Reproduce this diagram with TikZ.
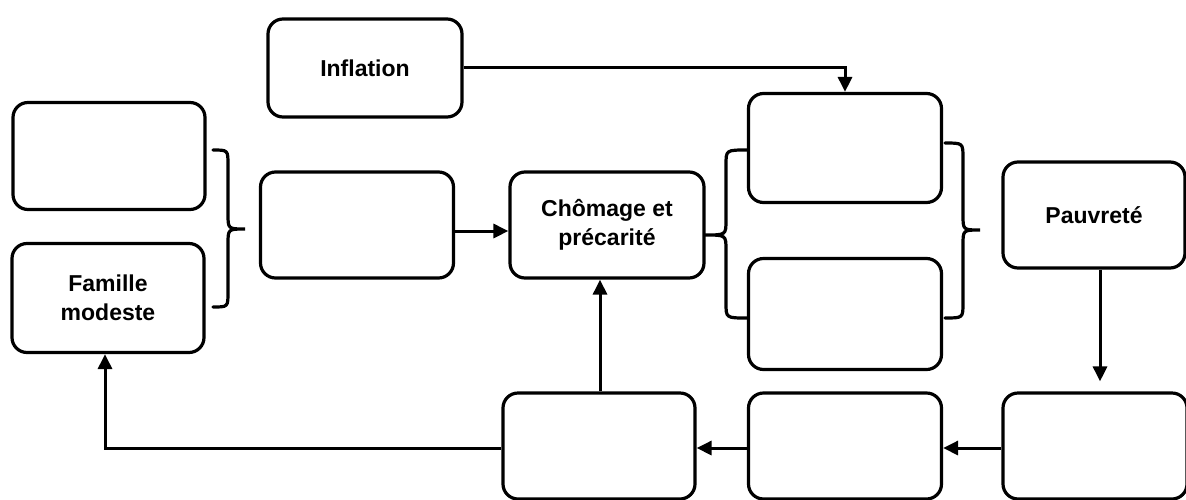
\documentclass[tikz,border=0pt]{standalone}
\usepackage{fontspec}
\setmainfont{Liberation Sans}
\usetikzlibrary{arrows.meta}
\tikzset{
  box/.style={draw, line width=3.2pt, rounded corners=15pt, align=center,
    inner sep=0pt, font=\fontsize{23}{29}\selectfont\bfseries},
  arr/.style={line width=3pt, -{Triangle[length=15pt,width=14pt]}},
  brace/.style={line width=3.2pt, line cap=round}
}
\begin{document}
\begin{tikzpicture}[x=1pt,y=-1pt]
\useasboundingbox (0,0) rectangle (1186,499);
\clip (0,0) rectangle (1186,499);
% nodes
\node[box, minimum width=194pt, minimum height=98pt] (infl) at (365,68) {Inflation};
\node[box, minimum width=192pt, minimum height=107pt] (tl) at (109,156) {};
\node[box, minimum width=192pt, minimum height=109pt] (fam) at (108,298) {Famille\\modeste};
\node[box, minimum width=193pt, minimum height=106pt] (ml) at (357,225) {};
\node[box, minimum width=194pt, minimum height=106pt] (cho) at (607,225) {Chômage et\\précarité};
\node[box, minimum width=193pt, minimum height=109pt] (ru) at (845,148) {};
\node[box, minimum width=193pt, minimum height=111pt] (rl) at (845,314) {};
\node[box, minimum width=182pt, minimum height=106pt] (pau) at (1094,215) {Pauvreté};
\node[box, minimum width=192pt, minimum height=106pt] (b1) at (599,446) {};
\node[box, minimum width=193pt, minimum height=106pt] (b2) at (845,446) {};
\node[box, minimum width=184pt, minimum height=106pt] (b3) at (1095,446) {};
% connectors
\draw[arr] ([yshift=1pt]infl.east) -| (ru.north);
\draw[arr] ([yshift=-6pt]ml.east) -- ([yshift=-6pt]cho.west);
\draw[arr] ([xshift=1pt]b1.north) -- ([xshift=1pt]b1.north |- cho.south);
\draw[arr] ([yshift=-2pt]b1.west) -| ([xshift=-3pt]fam.south);
\coordinate (pt) at ([xshift=5pt,yshift=10pt]b3.north);
\draw[arr] (pau.south -| pt) -- (pt);
\draw[arr] ([yshift=-2pt]b3.west) -- ([yshift=-2pt]b2.east);
\draw[arr] ([yshift=-2pt]b2.west) -- ([yshift=-2pt]b1.east);
% braces
\draw[brace] (213,150) .. controls (228,150) .. (228,165) -- (228,214)
  .. controls (228,229) .. (245,229) .. controls (228,229) .. (228,244)
  -- (228,292) .. controls (228,307) .. (213,307);
\draw[brace] (747,150) .. controls (726,150) .. (726,165) -- (726,220)
  .. controls (726,235) .. (705,235) .. controls (726,235) .. (726,250)
  -- (726,303) .. controls (726,318) .. (747,318);
\draw[brace] (945,143) .. controls (963,143) .. (963,158) -- (963,215)
  .. controls (963,230) .. (980,230) .. controls (963,230) .. (963,245)
  -- (963,303) .. controls (963,318) .. (945,318);
\end{tikzpicture}
\end{document}
